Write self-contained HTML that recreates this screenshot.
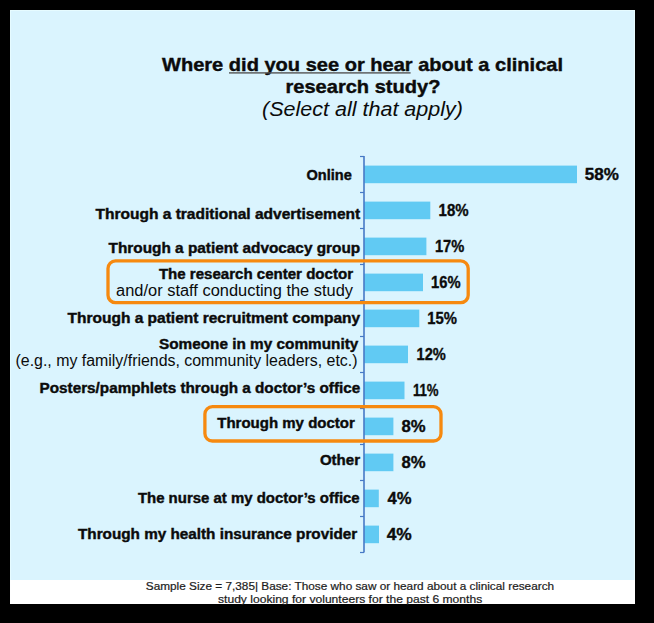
<!DOCTYPE html>
<html><head><meta charset="utf-8"><style>
html,body{margin:0;padding:0;background:#000;width:654px;height:623px;overflow:hidden}
svg{display:block;font-family:"Liberation Sans",sans-serif}
</style></head><body>
<svg width="654" height="623" viewBox="0 0 654 623">
<rect x="0" y="0" width="654" height="623" fill="#000"/>
<rect x="10" y="10" width="625" height="594" fill="#fff"/>
<rect x="10" y="10" width="625" height="570" fill="#E6FBFF"/>
<rect x="11" y="11" width="623" height="569" fill="#DAF4FE"/>
<text x="162.0" y="70.7" font-size="18.5" font-weight="bold" font-style="normal" textLength="401.0" lengthAdjust="spacingAndGlyphs" fill="#0B0B0B" stroke="#0B0B0B" stroke-width="0.4">Where did you see or hear about a clinical</text>
<rect x="229" y="72.2" width="181.6" height="1.4" fill="#555"/>
<text x="285.5" y="92.8" font-size="18.5" font-weight="bold" font-style="normal" textLength="154.9" lengthAdjust="spacingAndGlyphs" fill="#0B0B0B" stroke="#0B0B0B" stroke-width="0.4">research study?</text>
<text x="262.0" y="115.6" font-size="20" font-weight="normal" font-style="italic" textLength="201.0" lengthAdjust="spacingAndGlyphs" fill="#0B0B0B">(Select all that apply)</text>
<text x="306.5" y="179.8" font-size="14" font-weight="bold" font-style="normal" textLength="45.3" lengthAdjust="spacingAndGlyphs" fill="#0B0B0B" stroke="#0B0B0B" stroke-width="0.4">Online</text>
<text x="95.5" y="219.0" font-size="14" font-weight="bold" font-style="normal" textLength="264.7" lengthAdjust="spacingAndGlyphs" fill="#0B0B0B" stroke="#0B0B0B" stroke-width="0.4">Through a traditional advertisement</text>
<text x="108.6" y="252.8" font-size="14" font-weight="bold" font-style="normal" textLength="251.6" lengthAdjust="spacingAndGlyphs" fill="#0B0B0B" stroke="#0B0B0B" stroke-width="0.4">Through a patient advocacy group</text>
<text x="158.9" y="279.0" font-size="14" font-weight="bold" font-style="normal" textLength="194.1" lengthAdjust="spacingAndGlyphs" fill="#0B0B0B" stroke="#0B0B0B" stroke-width="0.4">The research center doctor</text>
<text x="116.1" y="296.4" font-size="16" font-weight="normal" font-style="normal" textLength="236.9" lengthAdjust="spacingAndGlyphs" fill="#0B0B0B">and/or staff conducting the study</text>
<text x="67.6" y="322.5" font-size="14" font-weight="bold" font-style="normal" textLength="292.6" lengthAdjust="spacingAndGlyphs" fill="#0B0B0B" stroke="#0B0B0B" stroke-width="0.4">Through a patient recruitment company</text>
<text x="159.0" y="349.0" font-size="14" font-weight="bold" font-style="normal" textLength="199.3" lengthAdjust="spacingAndGlyphs" fill="#0B0B0B" stroke="#0B0B0B" stroke-width="0.4">Someone in my community</text>
<text x="15.5" y="365.8" font-size="16" font-weight="normal" font-style="normal" textLength="342.0" lengthAdjust="spacingAndGlyphs" fill="#0B0B0B">(e.g., my family/friends, community leaders, etc.)</text>
<text x="39.6" y="393.3" font-size="14" font-weight="bold" font-style="normal" textLength="320.6" lengthAdjust="spacingAndGlyphs" fill="#0B0B0B" stroke="#0B0B0B" stroke-width="0.4">Posters/pamphlets through a doctor’s office</text>
<text x="217.3" y="428.0" font-size="14" font-weight="bold" font-style="normal" textLength="137.5" lengthAdjust="spacingAndGlyphs" fill="#0B0B0B" stroke="#0B0B0B" stroke-width="0.4">Through my doctor</text>
<text x="319.9" y="464.7" font-size="14" font-weight="bold" font-style="normal" textLength="40.1" lengthAdjust="spacingAndGlyphs" fill="#0B0B0B" stroke="#0B0B0B" stroke-width="0.4">Other</text>
<text x="137.9" y="502.6" font-size="14" font-weight="bold" font-style="normal" textLength="221.8" lengthAdjust="spacingAndGlyphs" fill="#0B0B0B" stroke="#0B0B0B" stroke-width="0.4">The nurse at my doctor’s office</text>
<text x="78.0" y="538.5" font-size="14" font-weight="bold" font-style="normal" textLength="279.2" lengthAdjust="spacingAndGlyphs" fill="#0B0B0B" stroke="#0B0B0B" stroke-width="0.4">Through my health insurance provider</text>
<rect x="364" y="165.6" width="213.0" height="17.6" fill="#61CAF3"/>
<text x="584.8" y="180.1" font-size="16" font-weight="bold" font-style="normal" textLength="34.1" lengthAdjust="spacingAndGlyphs" fill="#0B0B0B" stroke="#0B0B0B" stroke-width="0.35">58%</text>
<rect x="364" y="201.6" width="66.3" height="17.6" fill="#61CAF3"/>
<text x="438.6" y="216.1" font-size="16" font-weight="bold" font-style="normal" textLength="30.0" lengthAdjust="spacingAndGlyphs" fill="#0B0B0B" stroke="#0B0B0B" stroke-width="0.35">18%</text>
<rect x="364" y="237.6" width="62.4" height="17.6" fill="#61CAF3"/>
<text x="434.9" y="252.1" font-size="16" font-weight="bold" font-style="normal" textLength="29.4" lengthAdjust="spacingAndGlyphs" fill="#0B0B0B" stroke="#0B0B0B" stroke-width="0.35">17%</text>
<rect x="364" y="273.6" width="59.0" height="17.6" fill="#61CAF3"/>
<text x="431.1" y="288.1" font-size="16" font-weight="bold" font-style="normal" textLength="29.5" lengthAdjust="spacingAndGlyphs" fill="#0B0B0B" stroke="#0B0B0B" stroke-width="0.35">16%</text>
<rect x="364" y="309.6" width="55.3" height="17.6" fill="#61CAF3"/>
<text x="427.3" y="324.1" font-size="16" font-weight="bold" font-style="normal" textLength="29.7" lengthAdjust="spacingAndGlyphs" fill="#0B0B0B" stroke="#0B0B0B" stroke-width="0.35">15%</text>
<rect x="364" y="345.6" width="44.0" height="17.6" fill="#61CAF3"/>
<text x="416.5" y="360.1" font-size="16" font-weight="bold" font-style="normal" textLength="29.3" lengthAdjust="spacingAndGlyphs" fill="#0B0B0B" stroke="#0B0B0B" stroke-width="0.35">12%</text>
<rect x="364" y="381.6" width="40.5" height="17.6" fill="#61CAF3"/>
<text x="412.9" y="396.1" font-size="16" font-weight="bold" font-style="normal" textLength="25.7" lengthAdjust="spacingAndGlyphs" fill="#0B0B0B" stroke="#0B0B0B" stroke-width="0.35">11%</text>
<rect x="364" y="417.6" width="29.4" height="17.6" fill="#61CAF3"/>
<text x="401.5" y="432.1" font-size="16" font-weight="bold" font-style="normal" textLength="24.1" lengthAdjust="spacingAndGlyphs" fill="#0B0B0B" stroke="#0B0B0B" stroke-width="0.35">8%</text>
<rect x="364" y="453.6" width="29.4" height="17.6" fill="#61CAF3"/>
<text x="401.5" y="468.1" font-size="16" font-weight="bold" font-style="normal" textLength="24.1" lengthAdjust="spacingAndGlyphs" fill="#0B0B0B" stroke="#0B0B0B" stroke-width="0.35">8%</text>
<rect x="364" y="489.6" width="14.8" height="17.6" fill="#61CAF3"/>
<text x="387.4" y="504.1" font-size="16" font-weight="bold" font-style="normal" textLength="24.0" lengthAdjust="spacingAndGlyphs" fill="#0B0B0B" stroke="#0B0B0B" stroke-width="0.35">4%</text>
<rect x="364" y="525.6" width="15.0" height="17.6" fill="#61CAF3"/>
<text x="386.7" y="540.1" font-size="16" font-weight="bold" font-style="normal" textLength="25.1" lengthAdjust="spacingAndGlyphs" fill="#0B0B0B" stroke="#0B0B0B" stroke-width="0.35">4%</text>
<rect x="363.2" y="156" width="1.6" height="396.5" fill="#4779C6"/>
<rect x="360" y="155.9" width="4" height="1.2" fill="#4779C6"/>
<rect x="360" y="191.9" width="4" height="1.2" fill="#4779C6"/>
<rect x="360" y="227.9" width="4" height="1.2" fill="#4779C6"/>
<rect x="360" y="263.9" width="4" height="1.2" fill="#4779C6"/>
<rect x="360" y="299.9" width="4" height="1.2" fill="#4779C6"/>
<rect x="360" y="335.9" width="4" height="1.2" fill="#4779C6"/>
<rect x="360" y="371.9" width="4" height="1.2" fill="#4779C6"/>
<rect x="360" y="407.9" width="4" height="1.2" fill="#4779C6"/>
<rect x="360" y="443.9" width="4" height="1.2" fill="#4779C6"/>
<rect x="360" y="479.9" width="4" height="1.2" fill="#4779C6"/>
<rect x="360" y="515.9" width="4" height="1.2" fill="#4779C6"/>
<rect x="360" y="551.9" width="4" height="1.2" fill="#4779C6"/>
<rect x="108" y="260.9" width="360.2" height="41.8" rx="7.5" ry="7.5" fill="none" stroke="#F6890F" stroke-width="3.3"/>
<rect x="204.9" y="406.6" width="236.1" height="34.4" rx="7.5" ry="7.5" fill="none" stroke="#F6890F" stroke-width="3.3"/>
<text x="145.8" y="590.2" font-size="10.8" font-weight="normal" font-style="normal" textLength="408.3" lengthAdjust="spacingAndGlyphs" fill="#1c1c1c" stroke="#1c1c1c" stroke-width="0.2">Sample Size = 7,385| Base: Those who saw or heard about a clinical research</text>
<text x="218.0" y="602.5" font-size="10.8" font-weight="normal" font-style="normal" textLength="264.2" lengthAdjust="spacingAndGlyphs" fill="#1c1c1c" stroke="#1c1c1c" stroke-width="0.2">study looking for volunteers for the past 6 months</text>
</svg>
</body></html>
